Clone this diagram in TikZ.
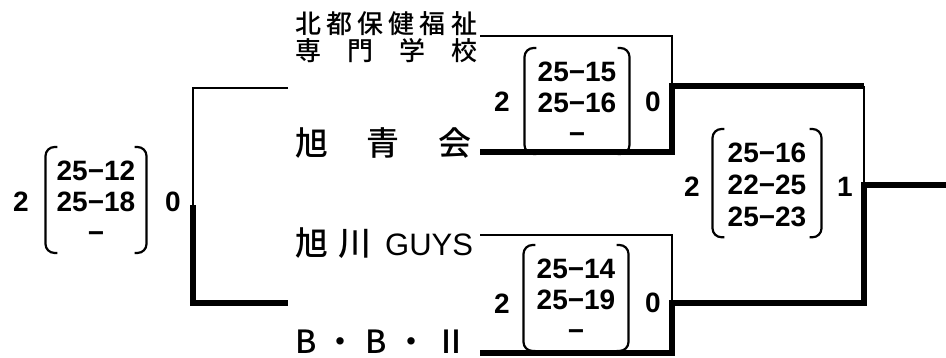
\documentclass[tikz,border=0pt]{standalone}
\usepackage{fontspec}
\setmainfont{Liberation Sans}
\newfontfamily\num{Liberation Sans Bold}
\newfontfamily\jp{Noto Sans CJK JP Medium}
\newfontfamily\lat{Liberation Sans}
\usetikzlibrary{positioning,calc}

\begin{document}
\begin{tikzpicture}[x=1pt,y=-1pt,
   sc/.style={inner sep=0pt,font=\num\fontsize{28}{31}\selectfont},
   mx/.style={sc,align=center,anchor=north,inner ysep=0pt},
   tm/.style={inner sep=0pt,font=\jp\fontsize{33}{33}\selectfont},
   prn/.style={line width=2.2pt,rounded corners=9pt},
   lose/.style={line width=2.6pt},
   win/.style={line width=5.5pt}]
  \useasboundingbox (0,0) rectangle (946,357);
  % teams
  \node[tm,font=\jp\fontsize{26}{27}\selectfont,align=center] (t1) at (386,37.5)
    {\makebox[182pt][s]{北\hfill 都\hfill 保\hfill 健\hfill 福\hfill 祉}\\
     \makebox[182pt][s]{専\hfill 門\hfill 学\hfill 校}};
  \node[tm] (t2) at (383.5,143.5) {\makebox[177pt][s]{旭\hfill 青\hfill 会}};
  \node[tm] (t3) at (384,243) {\makebox[178pt][s]{旭\hspace{10pt}川\hfill \lat\fontsize{31}{31}\selectfont GUYS}};
  \node[tm,font=\jp\fontsize{32}{32}\selectfont] (t4) at (381.5,341.5)
    {\makebox[173pt][s]{B\hfill ・\hfill B\hfill ・\hfill Ⅱ}};
  % scores
  \node[mx,inner xsep=11pt] (m0) at (96,161) {25−12\\25−18\\−};
  \node[sc] (a0) at (21,202) {2};
  \node[sc] (b0) at (173,202) {0};
  \node[mx,inner xsep=13pt] (m1) at (577,62) {25−15\\25−16\\−};
  \node[sc] (a1) at (502,102) {2};
  \node[sc] (b1) at (653,102) {0};
  \node[mx,inner xsep=13pt] (m2) at (576,259) {25−14\\25−19\\−};
  \node[sc] (a2) at (502,304) {2};
  \node[sc] (b2) at (653,303) {0};
  \node[mx,inner xsep=15pt,font=\num\fontsize{28}{32}\selectfont] (m3) at (767,143) {25−16\\22−25\\25−23};
  \node[sc] (a3) at (692,187) {2};
  \node[sc] (b3) at (845,187) {1};
  \foreach \m in {m0,m1,m2,m3}{
    \draw[prn] ([xshift=12pt,yshift=14pt]\m.north west) -| ([yshift=-10pt]\m.south west) -- ++(12,0);
    \draw[prn] ([xshift=-12pt,yshift=14pt]\m.north east) -| ([yshift=-10pt]\m.south east) -- ++(-12,0);
  }
  % bracket corners
  \coordinate (l1) at (288,88);
  \coordinate (l2) at (193,88);
  \coordinate (l3) at (193,205);
  \coordinate (l4) at (193,303);
  \coordinate (l5) at (288,303);
  \coordinate (p1) at (480,36);
  \coordinate (p2) at (672,36);
  \coordinate (p3) at (672,86);
  \coordinate (p4) at (672,152);
  \coordinate (p5) at (480,152);
  \coordinate (q1) at (480,235);
  \coordinate (q2) at (672,235);
  \coordinate (q3) at (672,303);
  \coordinate (q4) at (672,353);
  \coordinate (q5) at (480,353);
  \coordinate (f1) at (864,86);
  \coordinate (f2) at (864,185);
  \coordinate (f3) at (864,303);
  \coordinate (out) at (946,185);
  % lines
  \draw[lose] (l1) -- (l2) -- (l3);
  \draw[win] (l3) -- (l4) -- (l5);
  \draw[lose] (p1) -- (p2) -- (p3);
  \draw[win] (p5) -- (p4) -- (p3) -- (f1);
  \draw[lose] (f1) -- (f2);
  \draw[lose] (q1) -- (q2) -- (q3);
  \draw[win] (q5) -- (q4) -- (q3) -- (f3) -- (f2) -- (out);
\end{tikzpicture}
\end{document}
